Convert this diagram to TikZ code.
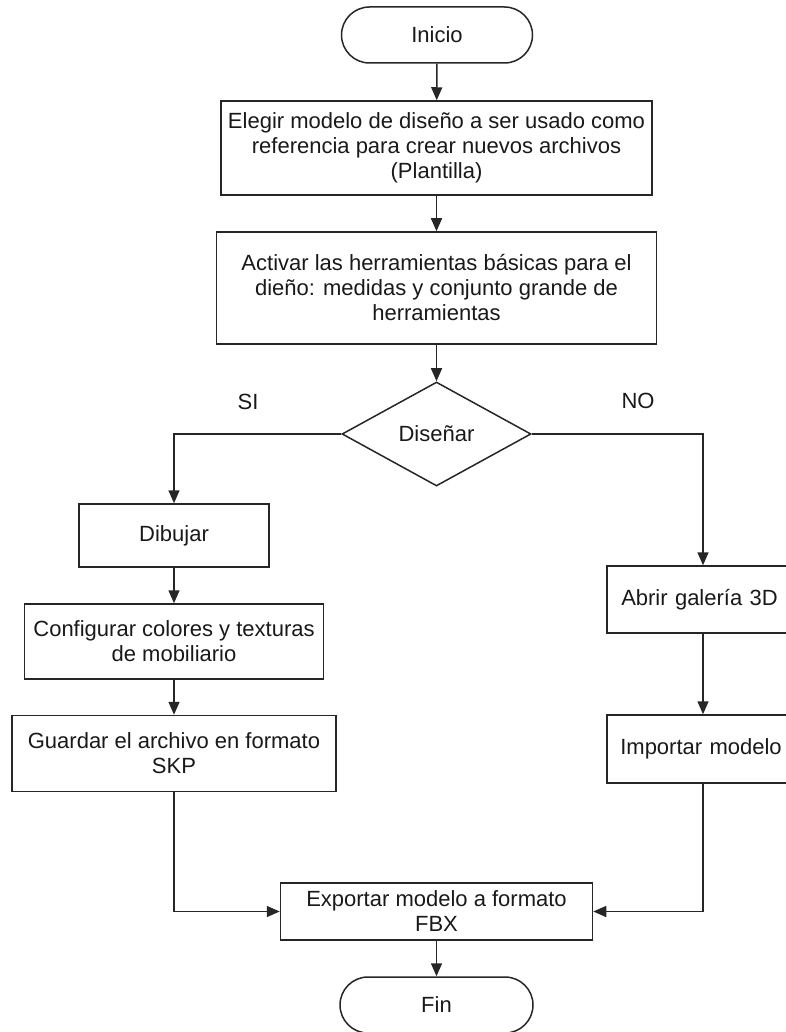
\documentclass[tikz,border=0pt]{standalone}
\usepackage{fontspec}
\setmainfont{Liberation Sans}
\usetikzlibrary{arrows.meta,shapes.geometric}

\tikzset{
  base/.style={draw=black!85, line width=1.5pt, text=black!90, inner sep=0pt,
    align=center, font=\fontsize{22}{25}\selectfont},
  procbox/.style={base, rectangle},
  termbox/.style={base, rectangle, rounded corners=28pt},
  decbox/.style={base, diamond, aspect=1.8},
  flow/.style={draw=black!85, line width=1.5pt, -{Triangle[length=13pt,width=11pt]}},
  lbl/.style={text=black!90, font=\fontsize{22}{25}\selectfont, inner sep=0pt}
}

\begin{document}
\begin{tikzpicture}[x=1pt,y=-1pt]
\useasboundingbox (0,0) rectangle (786,1032);
\clip (0,0) rectangle (786,1032);

% main column
\node[termbox, minimum width=191pt, minimum height=56pt] (ini) at (437,35) {Inicio};
\node[procbox, minimum width=431pt, minimum height=94pt] (plant) at (436.5,148)
  {Elegir modelo de diseño a ser usado como\\referencia para crear nuevos archivos\\(Plantilla)};
\node[procbox, minimum width=440pt, minimum height=112pt] (herr) at (436.5,288)
  {Activar las herramientas básicas para el\\dieño: medidas y conjunto grande de\\herramientas};
\node[decbox, minimum width=189pt, minimum height=104pt] (dec) at (436.5,434) {Diseñar};

% SI branch
\node[procbox, minimum width=190pt, minimum height=63pt] (dib) at (174,535.5) {Dibujar};
\node[procbox, minimum width=299pt, minimum height=75pt] (conf) at (174,641.5)
  {Configurar colores y texturas\\de mobiliario};
\node[procbox, minimum width=324pt, minimum height=76pt] (guard) at (174,753.5)
  {Guardar el archivo en formato\\SKP};

% NO branch
\node[procbox, minimum width=192pt, minimum height=67pt, text width=192pt] (abr) at (703,599.5)
  {\hspace*{-7pt}Abrir galería 3D};
\node[procbox, minimum width=192pt, minimum height=68pt, text width=192pt] (imp) at (703,749)
  {\hspace*{-4pt}Importar modelo};

% end
\node[procbox, minimum width=312pt, minimum height=57pt] (exp) at (436.5,911.5)
  {Exportar modelo a formato\\FBX};
\node[termbox, minimum width=193pt, minimum height=56pt] (fin) at (436.5,1005) {Fin};

% branch labels
\node[lbl] (si) at (248,402) {SI};
\node[lbl] (no) at (638,401) {NO};

% connectors
\draw[flow] (ini) -- (plant);
\draw[flow] (plant) -- (herr);
\draw[flow] (herr) -- (dec);
\draw[flow] (dec.west) -| (dib.north);
\draw[flow] (dec.east) -| (abr.north);
\draw[flow] (dib) -- (conf);
\draw[flow] (conf) -- (guard);
\draw[flow] (abr) -- (imp);
\draw[flow] (guard.south) |- (exp.west);
\draw[flow] (imp.south) |- (exp.east);
\draw[flow] (exp) -- (fin);
\end{tikzpicture}
\end{document}
